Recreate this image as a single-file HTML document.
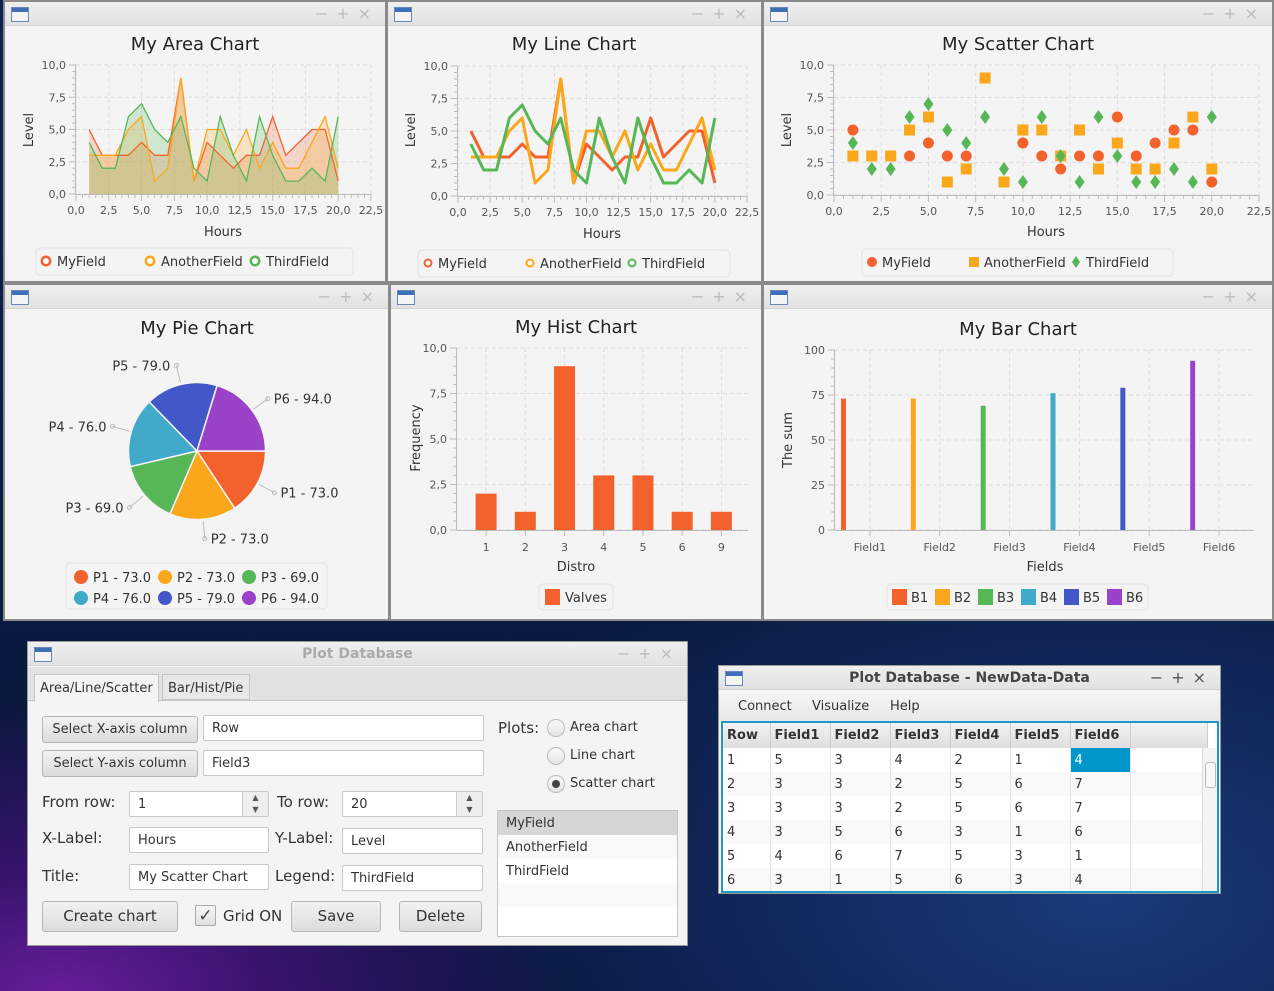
<!DOCTYPE html>
<html><head><meta charset="utf-8">
<style>
*{box-sizing:border-box;margin:0;padding:0}
body{width:1274px;height:991px;overflow:hidden;position:relative;font-family:"Liberation Sans","DejaVu Sans",sans-serif;
background:radial-gradient(ellipse 500px 300px at 60px 1000px,#6a1e9a 0%,#3a1470 40%,rgba(20,30,80,0) 100%),radial-gradient(ellipse 700px 400px at 1100px 900px,#1a3a7a 0%,rgba(10,25,60,0) 100%),linear-gradient(#0c2250,#0a1a40 60%,#08143a);}
.win{position:absolute;background:#f4f4f4;border:2px solid #8a8a8a}
.tb{position:absolute;left:0;top:0;right:0;height:24px;background:linear-gradient(#efefef,#e2e2e2);border-bottom:1px solid #d4d4d4}
.icon{position:absolute;left:6px;top:5px;width:18px;height:15px;border:1px solid #6b86b8;background:linear-gradient(#3e6fb8 0,#3e6fb8 4px,#f4f4f4 4px)}
.ctl{position:absolute;right:6px;top:2px;color:#bbb;font-size:16px;letter-spacing:8px;font-family:"DejaVu Sans",sans-serif}
.ttl{position:absolute;left:0;right:0;top:4px;text-align:center;font-weight:bold;font-size:14px;font-family:"DejaVu Sans",sans-serif}
.btn{position:absolute;background:linear-gradient(#f2f2f2,#dcdcdc);border:1px solid #b5b5b5;border-radius:3px;font-size:14px;color:#333;text-align:center;font-family:"DejaVu Sans",sans-serif}
.tf{position:absolute;background:#fff;border:1px solid #c8c8c8;border-radius:2px;font-size:13px;color:#333;padding:5px 8px;font-family:"DejaVu Sans",sans-serif}
.lbl{position:absolute;font-size:15px;color:#333;font-family:"DejaVu Sans",sans-serif}
.radio{position:absolute;width:18px;height:18px;border-radius:50%;border:1px solid #bbb;background:linear-gradient(#fafafa,#e4e4e4)}
table{border-collapse:collapse;font-family:"DejaVu Sans",sans-serif;font-size:13px;color:#333}
td,th{border-right:1px solid #e4e4e4;height:24px;padding-left:4px;text-align:left}
th{background:linear-gradient(#f2f2f2,#dedede);font-weight:bold;border-right:1px solid #ccc}
svg text{font-family:"DejaVu Sans","Liberation Sans",sans-serif}
</style></head><body>

<div class="win" style="left:3px;top:0;width:384px;height:283px"><div class="tb"><div class="icon"></div><div class="ctl">−+×</div></div></div>
<div class="win" style="left:386px;top:0;width:377px;height:283px"><div class="tb"><div class="icon"></div><div class="ctl">−+×</div></div></div>
<div class="win" style="left:762px;top:0;width:512px;height:283px"><div class="tb"><div class="icon"></div><div class="ctl">−+×</div></div></div>
<div class="win" style="left:3px;top:283px;width:387px;height:338px"><div class="tb"><div class="icon"></div><div class="ctl">−+×</div></div></div>
<div class="win" style="left:389px;top:283px;width:374px;height:338px"><div class="tb"><div class="icon"></div><div class="ctl">−+×</div></div></div>
<div class="win" style="left:762px;top:283px;width:512px;height:338px"><div class="tb"><div class="icon"></div><div class="ctl">−+×</div></div></div>

<!-- Plot Database window -->
<div class="win" style="left:27px;top:641px;width:661px;height:305px;border:1px solid #999">
 <div class="tb"><div class="icon"></div><div class="ttl" style="color:#aaa">Plot Database</div><div class="ctl">−+×</div></div>
 <div style="position:absolute;left:0;right:0;top:25px;height:34px;background:#e2e2e2;border-bottom:1px solid #c4c4c4"></div>
 <div style="position:absolute;left:6px;top:32px;width:125px;height:28px;background:#f4f4f4;border:1px solid #c4c4c4;border-bottom:none;font-size:13px;padding:6px 0 0 5px;color:#333;font-family:'DejaVu Sans',sans-serif">Area/Line/Scatter</div>
 <div style="position:absolute;left:134px;top:32px;width:88px;height:26px;background:#e8e8e8;border:1px solid #c4c4c4;font-size:13px;padding:6px 0 0 5px;color:#333;font-family:'DejaVu Sans',sans-serif">Bar/Hist/Pie</div>
 <div class="btn" style="left:14px;top:74px;width:156px;height:27px;line-height:25px;font-size:13px">Select X-axis column</div>
 <div class="tf" style="left:175px;top:73px;width:281px;height:26px">Row</div>
 <div class="btn" style="left:14px;top:108px;width:156px;height:27px;line-height:25px;font-size:13px">Select Y-axis column</div>
 <div class="tf" style="left:175px;top:108px;width:281px;height:26px">Field3</div>
 <div class="lbl" style="left:14px;top:151px">From row:</div>
 <div class="tf" style="left:101px;top:149px;width:140px;height:26px">1<span style="position:absolute;right:0;top:0;width:26px;height:24px;border-left:1px solid #ccc;background:#eee;font-size:8px;text-align:center;line-height:12px;color:#555">▲<br>▼</span></div>
 <div class="lbl" style="left:249px;top:151px">To row:</div>
 <div class="tf" style="left:314px;top:149px;width:141px;height:26px">20<span style="position:absolute;right:0;top:0;width:26px;height:24px;border-left:1px solid #ccc;background:#eee;font-size:8px;text-align:center;line-height:12px;color:#555">▲<br>▼</span></div>
 <div class="lbl" style="left:14px;top:187px">X-Label:</div>
 <div class="tf" style="left:101px;top:185px;width:140px;height:26px">Hours</div>
 <div class="lbl" style="left:247px;top:187px">Y-Label:</div>
 <div class="tf" style="left:314px;top:186px;width:141px;height:26px">Level</div>
 <div class="lbl" style="left:14px;top:225px">Title:</div>
 <div class="tf" style="left:101px;top:222px;width:140px;height:26px">My Scatter Chart</div>
 <div class="lbl" style="left:247px;top:225px">Legend:</div>
 <div class="tf" style="left:314px;top:223px;width:141px;height:26px">ThirdField</div>
 <div class="btn" style="left:14px;top:259px;width:136px;height:31px;line-height:29px;font-size:15px">Create chart</div>
 <div style="position:absolute;left:167px;top:263px;width:21px;height:21px;border:1px solid #aaa;background:linear-gradient(#f6f6f6,#e0e0e0);border-radius:2px;font-size:17px;text-align:center;line-height:19px;color:#444">✓</div>
 <div class="lbl" style="left:195px;top:265px">Grid ON</div>
 <div class="btn" style="left:263px;top:259px;width:90px;height:31px;line-height:29px;font-size:15px">Save</div>
 <div class="btn" style="left:371px;top:259px;width:83px;height:31px;line-height:29px;font-size:15px">Delete</div>
 <div class="lbl" style="left:470px;top:77px">Plots:</div>
 <div class="radio" style="left:519px;top:77px"></div>
 <div class="lbl" style="left:542px;top:78px;font-size:13px">Area chart</div>
 <div class="radio" style="left:519px;top:105px"></div>
 <div class="lbl" style="left:542px;top:106px;font-size:13px">Line chart</div>
 <div class="radio" style="left:519px;top:133px"><div style="position:absolute;left:4px;top:4px;width:8px;height:8px;border-radius:50%;background:#444"></div></div>
 <div class="lbl" style="left:542px;top:134px;font-size:13px">Scatter chart</div>
 <div style="position:absolute;left:469px;top:168px;width:181px;height:127px;border:1px solid #c4c4c4;background:#fff;font-size:13px;color:#333;font-family:'DejaVu Sans',sans-serif">
  <div style="height:24px;background:#d6d6d6;padding:5px 8px">MyField</div>
  <div style="height:24px;background:#f9f9f9;padding:5px 8px">AnotherField</div>
  <div style="height:24px;background:#fff;padding:5px 8px">ThirdField</div>
  <div style="height:24px;background:#f9f9f9"></div>
 </div>
</div>

<!-- Table window -->
<div class="win" style="left:718px;top:665px;width:503px;height:229px;border:1px solid #999">
 <div class="tb"><div class="icon"></div><div class="ttl" style="color:#444">Plot Database - NewData-Data</div><div class="ctl" style="color:#555">−+×</div></div>
 <div style="position:absolute;left:0;right:0;top:25px;height:30px;background:linear-gradient(#f6f6f6,#e8e8e8);font-size:13px;color:#333;font-family:'DejaVu Sans',sans-serif">
  <span style="position:absolute;left:19px;top:8px">Connect</span>
  <span style="position:absolute;left:93px;top:8px">Visualize</span>
  <span style="position:absolute;left:171px;top:8px">Help</span>
 </div>
 <div style="position:absolute;left:2px;top:55px;width:498px;height:172px;border:2px solid #1f97c8;background:#fff;overflow:hidden">
  <table>
   <tr style="height:25px"><th style="width:47px">Row</th><th style="width:60px">Field1</th><th style="width:60px">Field2</th><th style="width:60px">Field3</th><th style="width:60px">Field4</th><th style="width:60px">Field5</th><th style="width:60px">Field6</th><th style="width:77px"></th></tr>
   <tr><td>1</td><td>5</td><td>3</td><td>4</td><td>2</td><td>1</td><td style="background:#0096c9;color:#fff">4</td><td></td></tr>
   <tr style="background:#f9f9f9"><td>2</td><td>3</td><td>3</td><td>2</td><td>5</td><td>6</td><td>7</td><td></td></tr>
   <tr><td>3</td><td>3</td><td>3</td><td>2</td><td>5</td><td>6</td><td>7</td><td></td></tr>
   <tr style="background:#f9f9f9"><td>4</td><td>3</td><td>5</td><td>6</td><td>3</td><td>1</td><td>6</td><td></td></tr>
   <tr><td>5</td><td>4</td><td>6</td><td>7</td><td>5</td><td>3</td><td>1</td><td></td></tr>
   <tr style="background:#f9f9f9"><td>6</td><td>3</td><td>1</td><td>5</td><td>6</td><td>3</td><td>4</td><td></td></tr>
  </table>
  <div style="position:absolute;right:0;top:25px;width:15px;bottom:0;background:#f4f4f4;border-left:1px solid #ddd"><div style="position:absolute;left:2px;top:14px;width:11px;height:26px;border:1px solid #bbb;border-radius:3px;background:#f8f8f8"></div></div>
 </div>
</div>

<svg id="charts" width="1274" height="991" style="position:absolute;left:0;top:0;pointer-events:none" xmlns="http://www.w3.org/2000/svg"></svg>

<script>
// ---- data ----
const hours = [1,2,3,4,5,6,7,8,9,10,11,12,13,14,15,16,17,18,19,20];
const myField = [5,3,3,3,4,3,3,9,1,4,3,2,3,3,6,3,4,5,5,1];
const anotherField = [3,3,3,5,6,1,2,9,1,5,5,3,5,2,4,2,2,4,6,2];
const thirdField = [4,2,2,6,7,5,4,6,2,1,6,3,1,6,3,1,1,2,1,6];
const seriesNames = ["MyField","AnotherField","ThirdField"];
const xTicks = [0,2.5,5,7.5,10,12.5,15,17.5,20,22.5];
const yTicks = [0,2.5,5,7.5,10];
const pieLabels = ["P1","P2","P3","P4","P5","P6"];
const pieValues = [73,73,69,76,79,94];
const histCats = ["1","2","3","4","5","6","9"];
const histValues = [2,1,9,3,3,1,1];
const barCats = ["Field1","Field2","Field3","Field4","Field5","Field6"];
const barSeries = ["B1","B2","B3","B4","B5","B6"];
const barValues = [73,73,69,76,79,94];
const barTicks = [0,25,50,75,100];

const COLORS = ["#f3622d","#fba71b","#57b757","#41a9c9","#4258c9","#9a42c8"];
const svg = document.getElementById('charts');
const NS = "http://www.w3.org/2000/svg";
function mk(tag, attrs, parent){const e=document.createElementNS(NS,tag);for(const k in attrs)e.setAttribute(k,attrs[k]);(parent||svg).appendChild(e);return e;}
function lin(d0,d1,r0,r1){return v=>r0+(v-d0)*(r1-r0)/(d1-d0);}
function fmt(v){return v.toFixed(1).replace('.',',');}
function txt(x,y,s,attrs,parent){const t=mk('text',Object.assign({x:x,y:y},attrs||{}),parent);t.textContent=s;return t;}

function numAxes(g,X,Y,x0,x1,y0,y1,xt,yt,fmtX,fmtY){
  for(const v of (xt||[])){mk('line',{x1:X(v),x2:X(v),y1:Y(y0),y2:Y(y1),stroke:'#ddd','stroke-dasharray':'4,3'},g);}
  for(const v of yt){mk('line',{x1:X(x0),x2:X(x1),y1:Y(v),y2:Y(v),stroke:'#ddd','stroke-dasharray':'4,3'},g);}
  mk('line',{x1:X(x0),x2:X(x1),y1:Y(y0)+0.5,y2:Y(y0)+0.5,stroke:'#bbb'},g);
  mk('line',{x1:X(x0)-0.5,x2:X(x0)-0.5,y1:Y(y0),y2:Y(y1),stroke:'#bbb'},g);
  if(xt){for(let i=0;i<xt.length;i++){const v=xt[i];mk('line',{x1:X(v),x2:X(v),y1:Y(y0),y2:Y(y0)+7,stroke:'#bbb'},g);
    if(i<xt.length-1){const st=(xt[i+1]-v)/5;for(let k=1;k<5;k++)mk('line',{x1:X(v+k*st),x2:X(v+k*st),y1:Y(y0),y2:Y(y0)+4,stroke:'#bbb'},g);}
    const t=txt(X(v),Y(y0)+20,fmtX(v),{'text-anchor':'middle','font-size':11,fill:'#555'},g);
    
    }}
  for(let i=0;i<yt.length;i++){const v=yt[i];mk('line',{x1:X(x0)-7,x2:X(x0),y1:Y(v),y2:Y(v),stroke:'#bbb'},g);
    if(i<yt.length-1){const st=(yt[i+1]-v)/5;for(let k=1;k<5;k++)mk('line',{x1:X(x0)-4,x2:X(x0),y1:Y(v+k*st),y2:Y(v+k*st),stroke:'#bbb'},g);}
    const t=txt(X(x0)-10,Y(v)+4,fmtY(v),{'text-anchor':'end','font-size':11,fill:'#555'},g);
    
    }
}
function titles(g,cx,ty,title,xl,xly,ylx,yly,yl){
  const t=txt(cx,ty,title,{'text-anchor':'middle','font-size':18,fill:'#222'},g);
  
  
  if(xl){const a=txt(xl[0],xly,xl[1],{'text-anchor':'middle','font-size':13,fill:'#333'},g);
  
  }
  const b=txt(ylx,yly,yl,{'text-anchor':'middle','font-size':13,fill:'#333',transform:`rotate(-90 ${ylx} ${yly})`},g);
  
  
}
function legendBox(g,x,y,w,h){const r=mk('rect',{x:x,y:y,width:w,height:h,rx:4,fill:'#f4f4f4',stroke:'#e2e2e2'},g);
  
  }
const allSeries=[myField,anotherField,thirdField];

// ---- Area chart ----
(function(){
  const g=mk('g',{});
  
  
  const X=lin(0,22.5,76,371), Y=lin(0,10,194,65);
  numAxes(g,X,Y,0,22.5,0,10,xTicks,yTicks,fmt,fmt);
  allSeries.forEach((s,si)=>{
    let d=`M${X(hours[0])},${Y(0)}`;hours.forEach((h,i)=>d+=` L${X(h)},${Y(s[i])}`);d+=` L${X(hours[hours.length-1])},${Y(0)} Z`;
    const a=mk('path',{d:d,fill:COLORS[si],'fill-opacity':0.22},g);
    
    
  });
  allSeries.forEach((s,si)=>{
    const l=mk('polyline',{points:hours.map((h,i)=>X(h)+','+Y(s[i])).join(' '),fill:'none',stroke:COLORS[si],'stroke-width':1.3},g);
    
    
  });
  titles(g,195,50,'My Area Chart',[223,'Hours'],236,33,130,'Level');
  legendBox(g,36,248,317,27);
  const lx=[46,150,255];
  seriesNames.forEach((n,i)=>{
    const c=mk('circle',{cx:lx[i],cy:261,r:4.2,fill:'#fff',stroke:COLORS[i],'stroke-width':2.5},g);
    
    
    const t=txt(lx[i]+11,266,n,{'font-size':13,fill:'#333'},g);
    
    
  });
})();

// ---- Line chart ----
(function(){
  const g=mk('g',{});
  
  
  const X=lin(0,22.5,458,747), Y=lin(0,10,196,66);
  numAxes(g,X,Y,0,22.5,0,10,xTicks,yTicks,fmt,fmt);
  allSeries.forEach((s,si)=>{
    const l=mk('polyline',{points:hours.map((h,i)=>X(h)+','+Y(s[i])).join(' '),fill:'none',stroke:COLORS[si],'stroke-width':3,'stroke-linejoin':'round'},g);
    
    
  });
  titles(g,574,50,'My Line Chart',[602,'Hours'],238,415,130,'Level');
  legendBox(g,418,250,312,27);
  const lx=[428,530,632];
  seriesNames.forEach((n,i)=>{
    const c=mk('circle',{cx:lx[i],cy:263,r:3.5,fill:'#fff',stroke:COLORS[i],'stroke-width':2},g);
    
    
    const t=txt(lx[i]+10,268,n,{'font-size':13,fill:'#333'},g);
    
    
  });
})();

// ---- Scatter chart ----
(function(){
  const g=mk('g',{});
  
  
  const X=lin(0,22.5,834,1259), Y=lin(0,10,195,65);
  numAxes(g,X,Y,0,22.5,0,10,xTicks,yTicks,fmt,fmt);
  hours.forEach((h,i)=>{
    const c=mk('circle',{cx:X(h),cy:Y(myField[i]),r:5.5,fill:COLORS[0]},g);
    
    
  });
  hours.forEach((h,i)=>{
    const r=mk('rect',{x:X(h)-5.5,y:Y(anotherField[i])-5.5,width:11,height:11,fill:COLORS[1]},g);
    
    
  });
  hours.forEach((h,i)=>{
    const x=X(h),y=Y(thirdField[i]);
    const p=mk('polygon',{points:`${x},${y-7} ${x+5},${y} ${x},${y+7} ${x-5},${y}`,fill:COLORS[2]},g);
    
    
  });
  titles(g,1018,50,'My Scatter Chart',[1046,'Hours'],236,791,130,'Level');
  legendBox(g,862,249,311,27);
  const c=mk('circle',{cx:872,cy:262,r:5,fill:COLORS[0]},g);
  
  
  const r=mk('rect',{x:969,y:257,width:10,height:10,fill:COLORS[1]},g);
  
  
  const p=mk('polygon',{points:'1076,256 1080,262 1076,268 1072,262',fill:COLORS[2]},g);
  
  
  const lx=[882,984,1086];
  seriesNames.forEach((n,i)=>{
    const t=txt(lx[i],267,n,{'font-size':13,fill:'#333'},g);
    
    
  });
})();

// ---- Pie chart ----
(function(){
  const g=mk('g',{});
  
  
  const cx=197,cy=451,R=68.5;
  const total=pieValues.reduce((a,b)=>a+b,0);
  let a0=0;
  pieValues.forEach((v,i)=>{
    const a1=a0+v/total*Math.PI*2;
    const large=(a1-a0)>Math.PI?1:0;
    const d=`M${cx},${cy} L${cx+R*Math.cos(a0)},${cy+R*Math.sin(a0)} A${R},${R} 0 ${large} 1 ${cx+R*Math.cos(a1)},${cy+R*Math.sin(a1)} Z`;
    const s=mk('path',{d:d,fill:COLORS[i],stroke:'#f4f4f4','stroke-width':1.5},g);
    
    
    const m=(a0+a1)/2, ca=Math.cos(m), sa=Math.sin(m);
    const lxp=cx+88*ca, lyp=cy+88*sa;
    mk('line',{x1:cx+(R+2)*ca,y1:cy+(R+2)*sa,x2:lxp,y2:lyp,stroke:'#bbb'},g);
    mk('circle',{cx:lxp,cy:lyp,r:2,fill:'none',stroke:'#bbb'},g);
    const right=ca>=0;
    const t=txt(right?lxp+6:lxp-6,lyp+5,pieLabels[i]+' - '+v.toFixed(1),{'text-anchor':right?'start':'end','font-size':13,fill:'#333'},g);
    
    
    a0=a1;
  });
  const t=txt(197,334,'My Pie Chart',{'text-anchor':'middle','font-size':18,fill:'#222'},g);
  
  
  legendBox(g,66,563,261,46);
  pieValues.forEach((v,i)=>{
    const x=81+(i%3)*84, y=577+Math.floor(i/3)*21;
    const c=mk('circle',{cx:x,cy:y,r:7,fill:COLORS[i]},g);
    
    
    const l=txt(x+12,y+5,pieLabels[i]+' - '+v.toFixed(1),{'font-size':13,fill:'#333'},g);
    
    
  });
})();

// ---- Hist chart ----
(function(){
  const g=mk('g',{});
  
  
  const Y=lin(0,10,530,348);
  const ax0=457,ax1=748;
  const c0=466.5,c1=741, bw=(c1-c0)/histCats.length;
  const X=v=>ax0+v*(ax1-ax0);
  numAxes(g,X,Y,0,1,0,10,null,yTicks,fmt,fmt);
  histCats.forEach((c,i)=>{
    const cxp=c0+bw*(i+0.5);
    mk('line',{x1:cxp,x2:cxp,y1:348,y2:530,stroke:'#ddd','stroke-dasharray':'4,3'},g);
    mk('line',{x1:cxp,x2:cxp,y1:530,y2:536,stroke:'#bbb'},g);
    const b=mk('rect',{x:cxp-10.5,y:Y(histValues[i]),width:21,height:Y(0)-Y(histValues[i]),fill:COLORS[0]},g);
    
    
    const t=txt(cxp,551,c,{'text-anchor':'middle','font-size':11,fill:'#555'},g);
    
    
  });
  titles(g,576,333,'My Hist Chart',[576,'Distro'],571,420,438,'Frequency');
  legendBox(g,539,584,74,26);
  const s=mk('rect',{x:545,y:589,width:15,height:16,fill:COLORS[0]},g);
  
  
  const l=txt(565,602,'Valves',{'font-size':13,fill:'#333'},g);
  
  
})();

// ---- Bar chart ----
(function(){
  const g=mk('g',{});
  
  
  const Y=lin(0,100,530,350);
  const x0=835,x1=1254, cw=(x1-x0)/barCats.length;
  const X=v=>x0+v*cw;
  numAxes(g,X,Y,0,barCats.length,0,100,null,barTicks,fmt,v=>String(v));
  barCats.forEach((c,i)=>{
    const cxp=x0+cw*(i+0.5);
    mk('line',{x1:cxp,x2:cxp,y1:350,y2:530,stroke:'#ddd','stroke-dasharray':'4,3'},g);
    mk('line',{x1:cxp,x2:cxp,y1:530,y2:536,stroke:'#bbb'},g);
    const t=txt(cxp,551,c,{'text-anchor':'middle','font-size':11,fill:'#555'},g);
    
    
  });
  barValues.forEach((v,i)=>{
    const b=mk('rect',{x:X(i)+6,y:Y(v),width:5,height:Y(0)-Y(v),fill:COLORS[i]},g);
    
    
  });
  titles(g,1018,335,'My Bar Chart',[1045,'Fields'],571,792,440,'The sum');
  legendBox(g,887,584,261,26);
  barSeries.forEach((n,i)=>{
    const x=892+i*43;
    const s=mk('rect',{x:x,y:589,width:15,height:16,fill:COLORS[i]},g);
    
    
    const t=txt(x+19,602,n,{'font-size':13,fill:'#333'},g);
    
    
  });
})();
</script>
</body></html>
